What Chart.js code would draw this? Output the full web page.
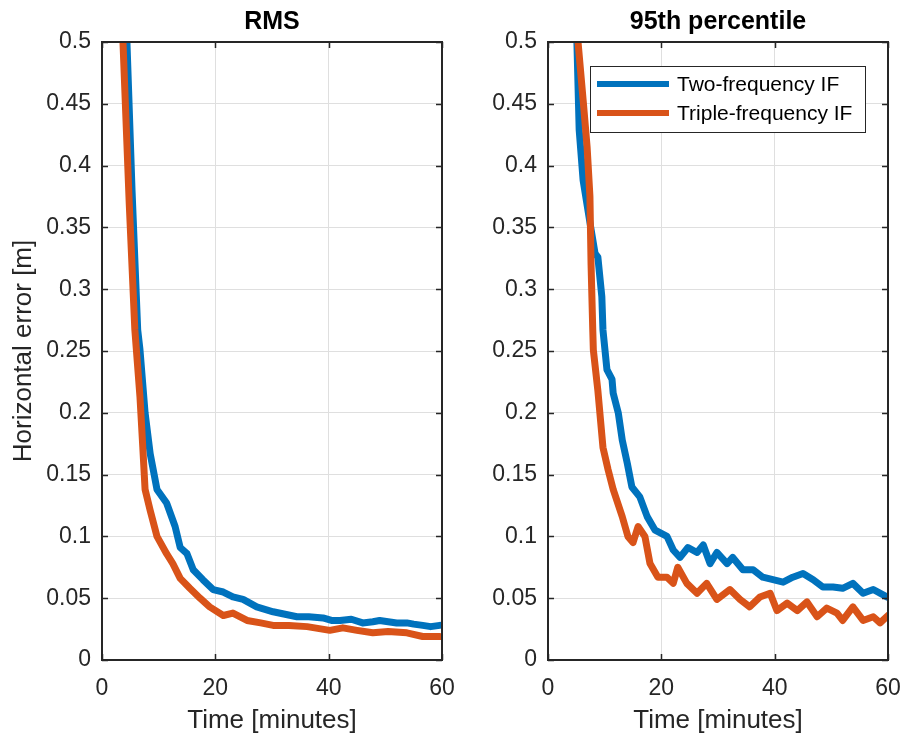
<!DOCTYPE html>
<html>
<head>
<meta charset="utf-8">
<script src="https://cdn.jsdelivr.net/npm/chart.js@4/dist/chart.umd.min.js"></script>
<style>
  body { margin: 0; background: #fff; }
  #wrap { position: relative; width: 904px; height: 742px; }
  canvas { position: absolute; top: 0; }
</style>
</head>
<body>
<div id="wrap">
  <canvas id="rmsChart" width="480" height="742" style="left:0"></canvas>
  <canvas id="p95Chart" width="452" height="742" style="left:452px"></canvas>
</div>
<script>
// Series labels
const seriesNames = ['Two-frequency IF', 'Triple-frequency IF'];

// RMS panel (minutes / metres)
const rmsTwoT = [3.6, 4.4, 5.3, 6.3, 6.7, 7.6, 8.5, 9.7, 11.4, 12.9, 13.8, 15, 16.1, 17.8, 19.6, 21.4, 23.1, 24.9, 27.3, 30.2, 34.4, 36.5, 39, 40.5, 42, 44, 46, 47.8, 49, 50.5, 52, 53.8, 55, 56.6, 58, 59.6];
const rmsTwoV = [0.62, 0.5, 0.38, 0.267, 0.251, 0.2, 0.167, 0.138, 0.127, 0.108, 0.091, 0.086, 0.073, 0.065, 0.057, 0.055, 0.051, 0.049, 0.043, 0.039, 0.035, 0.035, 0.034, 0.032, 0.032, 0.033, 0.030, 0.031, 0.032, 0.031, 0.030, 0.030, 0.029, 0.028, 0.027, 0.028];
const rmsTriT = [3.0, 3.7, 4.8, 5.8, 6.7, 7.2, 7.6, 8.5, 9.7, 11.4, 12.5, 13.8, 15.5, 17.3, 19, 21.4, 23.1, 25.6, 28, 30.2, 33, 36.2, 40.2, 42.5, 45, 47.8, 50.5, 53.8, 56.6, 59.6];
const rmsTriV = [0.6, 0.5, 0.37, 0.267, 0.213, 0.172, 0.138, 0.121, 0.1, 0.086, 0.078, 0.066, 0.058, 0.05, 0.043, 0.036, 0.038, 0.032, 0.030, 0.028, 0.028, 0.027, 0.024, 0.026, 0.024, 0.022, 0.023, 0.022, 0.019, 0.019];

// 95th percentile panel
const p95TwoT = [4.6, 5.1, 5.5, 6.2, 7.4, 8.3, 8.8, 9.5, 9.7, 10.4, 11.3, 11.5, 12.4, 13.1, 14, 14.8, 16.2, 17.5, 18.9, 21, 22.1, 23.3, 24.7, 26.3, 27.4, 28.6, 29.8, 31.6, 32.6, 34.4, 36.2, 37.9, 39.7, 41.5, 43.2, 45, 46.8, 48.5, 50.3, 52, 53.8, 55.6, 57.4, 59.8];
const p95TwoV = [0.57, 0.5, 0.429, 0.388, 0.354, 0.329, 0.326, 0.294, 0.267, 0.235, 0.227, 0.216, 0.2, 0.178, 0.159, 0.14, 0.132, 0.116, 0.105, 0.1, 0.089, 0.083, 0.091, 0.087, 0.093, 0.078, 0.087, 0.078, 0.083, 0.073, 0.073, 0.067, 0.065, 0.063, 0.067, 0.07, 0.065, 0.059, 0.059, 0.058, 0.062, 0.054, 0.057, 0.051];
const p95TriT = [4.8, 5.3, 6.2, 6.9, 7.4, 7.6, 7.9, 8.0, 8.8, 9.7, 10.6, 11.5, 13.1, 14.1, 15, 15.9, 17.1, 18, 19.4, 21, 22.1, 22.9, 24.5, 26.3, 28, 29.8, 32.1, 33.9, 35.6, 37.4, 39.2, 40.4, 42.2, 44, 45.7, 47.5, 49.2, 51, 52, 53.8, 55.6, 57.4, 58.6, 60];
const p95TriV = [0.57, 0.5, 0.453, 0.415, 0.375, 0.32, 0.267, 0.251, 0.218, 0.172, 0.154, 0.138, 0.116, 0.1, 0.095, 0.108, 0.1, 0.078, 0.067, 0.067, 0.062, 0.075, 0.062, 0.054, 0.062, 0.049, 0.057, 0.049, 0.043, 0.051, 0.054, 0.04, 0.046, 0.04, 0.047, 0.035, 0.042, 0.038, 0.032, 0.043, 0.032, 0.035, 0.03, 0.036];

// Axis ticks
const xTicks = [0, 20, 40, 60];
const yTickLabels = ['0', '0.05', '0.1', '0.15', '0.2', '0.25', '0.3', '0.35', '0.4', '0.45', '0.5'];

const BLUE = '#0072BD';
const ORANGE = '#D95319';
const AXIS = '#262626';
const FONT = "'Liberation Sans', Arial, sans-serif";

const toPoints = (ts, vs) => ts.map((t, i) => ({ x: t, y: vs[i] }));

// Box, inward ticks, titles, legend
const decorPlugin = {
    id: 'decor',
    afterDraw(chart, args, o) {
        const { ctx, chartArea: a, scales } = chart;
        ctx.save();
        ctx.strokeStyle = AXIS;
        ctx.lineWidth = 1.5;
        ctx.beginPath();
        scales.y.ticks.forEach(t => {
            const py = Math.round(scales.y.getPixelForValue(t.value)) + 0.5;
            ctx.moveTo(a.left, py); ctx.lineTo(a.left + 6, py);
            ctx.moveTo(a.right, py); ctx.lineTo(a.right - 6, py);
        });
        scales.x.ticks.forEach(t => {
            const px = Math.round(scales.x.getPixelForValue(t.value)) + 0.5;
            ctx.moveTo(px, a.bottom); ctx.lineTo(px, a.bottom - 6);
            ctx.moveTo(px, a.top); ctx.lineTo(px, a.top + 6);
        });
        ctx.stroke();
        ctx.lineWidth = 2;
        ctx.strokeRect(a.left, a.top, a.right - a.left, a.bottom - a.top);

        const cx = (a.left + a.right) / 2;
        ctx.fillStyle = '#000';
        ctx.textAlign = 'center';
        ctx.textBaseline = 'middle';
        ctx.font = `bold 25px ${FONT}`;
        ctx.fillText(o.title, cx, 22);
        ctx.fillStyle = AXIS;
        ctx.font = `26px ${FONT}`;
        ctx.fillText('Time [minutes]', cx, 721);
        if (o.yTitle) {
            ctx.save();
            ctx.translate(24, (a.top + a.bottom) / 2);
            ctx.rotate(-Math.PI / 2);
            ctx.fillText(o.yTitle, 0, 0);
            ctx.restore();
        }
        if (o.legend) {
            const lx = 590 - 452, ly = 66, lw = 275, lh = 66;
            ctx.fillStyle = '#fff';
            ctx.fillRect(lx, ly, lw, lh);
            ctx.strokeStyle = AXIS;
            ctx.lineWidth = 1;
            ctx.strokeRect(lx + 0.5, ly + 0.5, lw, lh);
            ctx.font = `21px ${FONT}`;
            ctx.textAlign = 'left';
            chart.data.datasets.forEach((ds, i) => {
                const yy = ly + 18 + i * 29;
                ctx.strokeStyle = ds.borderColor;
                ctx.lineWidth = 6;
                ctx.beginPath();
                ctx.moveTo(lx + 7, yy); ctx.lineTo(lx + 79, yy);
                ctx.stroke();
                ctx.fillStyle = '#000';
                ctx.fillText(ds.label, lx + 87, yy + 1);
            });
        }
        ctx.restore();
    }
};

function makeChart(id, two, tri, opts) {
    return new Chart(document.getElementById(id), {
        type: 'line',
        data: {
            datasets: [
                { label: seriesNames[0], data: two, borderColor: BLUE, order: 2 },
                { label: seriesNames[1], data: tri, borderColor: ORANGE, order: 1 }
            ]
        },
        options: {
            responsive: false,
            animation: false,
            events: [],
            layout: { padding: { top: 42, right: opts.padRight, left: 0, bottom: 0 } },
            elements: {
                line: { borderWidth: 7, tension: 0, fill: false, borderJoinStyle: 'round', borderCapStyle: 'round' },
                point: { radius: 0 }
            },
            datasets: { line: { clip: 0 } },
            scales: {
                x: {
                    type: 'linear', min: 0, max: 60,
                    afterBuildTicks: s => { s.ticks = xTicks.map(v => ({ value: v })); },
                    afterFit: s => { s.height = 82; s.paddingLeft = 0; s.paddingRight = 0; },
                    grid: { color: '#dfdfdf', lineWidth: 1, drawTicks: false },
                    border: { display: false },
                    ticks: { color: AXIS, font: { family: FONT, size: 23 }, padding: 15, maxRotation: 0, autoSkip: false }
                },
                y: {
                    min: 0, max: 0.5,
                    afterBuildTicks: s => { s.ticks = yTickLabels.map((l, i) => ({ value: i * 0.05 })); },
                    afterFit: s => { s.width = opts.yWidth; s.paddingTop = 0; s.paddingBottom = 0; },
                    grid: { color: '#dfdfdf', lineWidth: 1, drawTicks: false },
                    border: { display: false },
                    ticks: {
                        color: AXIS, font: { family: FONT, size: 23 }, padding: 11, autoSkip: false,
                        callback: (v, i) => yTickLabels[i]
                    }
                }
            },
            plugins: {
                legend: { display: false },
                tooltip: { enabled: false },
                decor: opts.decor
            }
        },
        plugins: [decorPlugin]
    });
}

makeChart('rmsChart', toPoints(rmsTwoT, rmsTwoV), toPoints(rmsTriT, rmsTriV), {
    padRight: 38, yWidth: 102,
    decor: { title: 'RMS', yTitle: 'Horizontal error [m]', legend: false }
});
makeChart('p95Chart', toPoints(p95TwoT, p95TwoV), toPoints(p95TriT, p95TriV), {
    padRight: 16, yWidth: 96,
    decor: { title: '95th percentile', yTitle: null, legend: true }
});
</script>
</body>
</html>
